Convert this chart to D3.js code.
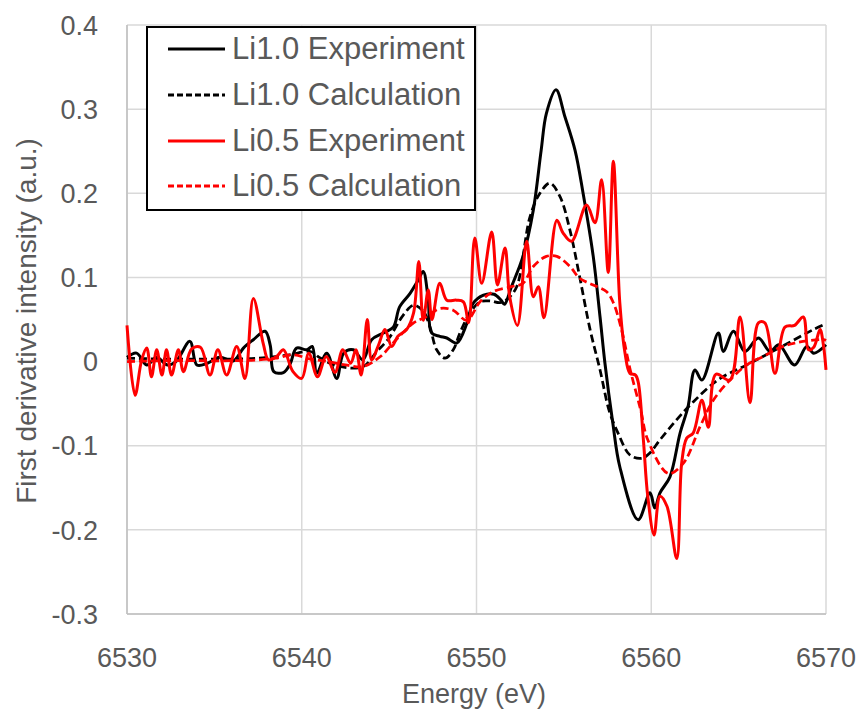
<!DOCTYPE html>
<html>
<head>
<meta charset="utf-8">
<title>First derivative XANES</title>
<script src="https://d3js.org/d3.v7.min.js"></script>
<style>
body { margin: 0; background: #fff; font-family: "Liberation Sans", Arial, sans-serif; }
.tick-label { fill: #595959; font-size: 27px; }
.axis-title { fill: #595959; }
.legend-text { fill: #595959; font-size: 31px; }
</style>
</head>
<body>
<script>
// x ticks / y ticks
var xTicks = [6530, 6540, 6550, 6560, 6570];
var yTicks = [0.4, 0.3, 0.2, 0.1, 0, -0.1, -0.2, -0.3];

// Li1.0 experiment (black solid)
var li10ExpE = [6530.0, 6530.55, 6531.13, 6531.7, 6532.3, 6532.8, 6533.6, 6534.0, 6534.6, 6535.3, 6536.1, 6536.66, 6537.23, 6537.9, 6538.2, 6538.4, 6538.95, 6539.33, 6539.7, 6540.3, 6540.6, 6540.86, 6541.43, 6542.0, 6542.4, 6542.95, 6543.5, 6544.0, 6544.67, 6545.24, 6545.6, 6546.2, 6546.67, 6546.95, 6547.24, 6547.43, 6547.9, 6548.3, 6548.87, 6549.44, 6549.8, 6550.4, 6551.0, 6551.4, 6551.6, 6552.0, 6552.66, 6553.25, 6553.7, 6554.0, 6554.55, 6555.06, 6555.64, 6556.1, 6556.68, 6557.07, 6557.35, 6557.8, 6558.2, 6559.25, 6559.93, 6560.2, 6560.5, 6561.07, 6561.65, 6562.1, 6562.5, 6562.9, 6563.84, 6564.12, 6564.7, 6565.36, 6566.13, 6566.8, 6567.3, 6568.2, 6568.9, 6569.3, 6570.0];
var li10ExpV = [0.005, 0.010, -0.004, 0.005, -0.004, 0.0, 0.024, -0.004, -0.002, 0.005, 0.001, 0.016, 0.026, 0.036, 0.019, -0.012, -0.013, -0.003, 0.016, 0.014, 0.018, -0.014, 0.010, -0.020, 0.010, 0.014, 0.002, 0.026, 0.034, 0.041, 0.065, 0.081, 0.097, 0.107, 0.073, 0.034, 0.030, 0.028, 0.022, 0.045, 0.069, 0.079, 0.080, 0.073, 0.068, 0.089, 0.125, 0.180, 0.251, 0.295, 0.323, 0.291, 0.251, 0.200, 0.125, 0.053, -0.002, -0.073, -0.125, -0.188, -0.156, -0.174, -0.156, -0.137, -0.085, -0.054, -0.010, -0.022, 0.034, 0.012, 0.036, 0.012, 0.028, 0.012, 0.020, -0.004, 0.018, 0.010, 0.020];

// Li1.0 calculation (black dashed)
var li10CalE = [6530, 6532, 6534, 6536, 6537.5, 6538.5, 6539.3, 6540.5, 6541, 6542, 6543.5, 6544.3, 6545, 6545.8, 6546.4, 6546.95, 6547.34, 6547.72, 6548.2, 6548.67, 6549.05, 6549.6, 6550.2, 6550.8, 6551.35, 6551.8, 6552.3, 6553.06, 6553.63, 6554.2, 6554.78, 6555.35, 6555.9, 6556.5, 6557.07, 6557.6, 6558.1, 6558.78, 6559.45, 6559.9, 6560.5, 6561.46, 6562.4, 6563.8, 6565.46, 6567.3, 6569.27, 6570];
var li10CalV = [0.004, 0.003, 0.003, 0.003, 0.004, 0.006, 0.008, 0.012, 0.005, -0.005, -0.006, 0.012, 0.028, 0.055, 0.067, 0.060, 0.041, 0.014, 0.004, 0.014, 0.034, 0.057, 0.071, 0.072, 0.070, 0.075, 0.089, 0.172, 0.200, 0.212, 0.196, 0.156, 0.101, 0.038, -0.010, -0.059, -0.085, -0.111, -0.115, -0.109, -0.093, -0.069, -0.048, -0.022, -0.004, 0.016, 0.038, 0.045];

// Li0.5 experiment (red solid)
var li05ExpE = [6530.0, 6530.46, 6530.84, 6531.13, 6531.4, 6531.7, 6532.0, 6532.26, 6532.55, 6532.94, 6533.23, 6533.7, 6534.2, 6534.75, 6535.2, 6535.7, 6536.28, 6536.75, 6537.23, 6537.8, 6538.1, 6538.56, 6538.95, 6539.5, 6540.0, 6540.4, 6540.9, 6541.4, 6541.9, 6542.35, 6542.8, 6543.1, 6543.4, 6543.75, 6544.0, 6544.4, 6544.76, 6545.15, 6545.5, 6546.0, 6546.4, 6546.7, 6546.95, 6547.24, 6547.45, 6547.9, 6548.3, 6548.85, 6549.25, 6549.55, 6549.9, 6550.3, 6550.87, 6551.2, 6551.63, 6551.9, 6552.34, 6552.87, 6553.25, 6553.54, 6553.86, 6554.6, 6554.95, 6555.44, 6556.3, 6556.78, 6557.16, 6557.54, 6557.83, 6558.2, 6558.5, 6558.78, 6559.1, 6559.26, 6559.55, 6559.8, 6560.16, 6560.5, 6560.9, 6561.46, 6561.74, 6562.03, 6562.4, 6562.9, 6563.27, 6563.7, 6564.5, 6565.08, 6565.65, 6566.13, 6566.5, 6567.08, 6567.65, 6568.2, 6568.7, 6569.0, 6569.3, 6569.66, 6569.85, 6570.0];
var li05ExpV = [0.043, -0.040, 0.002, 0.016, -0.018, 0.014, -0.016, 0.014, -0.016, 0.014, -0.012, 0.015, 0.017, -0.016, 0.014, -0.016, 0.018, -0.020, 0.075, 0.021, 0.002, 0.006, 0.014, -0.012, -0.020, 0.010, -0.018, 0.006, -0.013, 0.014, -0.002, 0.014, -0.016, 0.050, 0.002, 0.020, 0.038, 0.018, 0.030, 0.038, 0.058, 0.119, 0.049, 0.085, 0.050, 0.093, 0.073, 0.073, 0.071, 0.046, 0.147, 0.093, 0.154, 0.091, 0.135, 0.077, 0.043, 0.143, 0.077, 0.089, 0.052, 0.168, 0.153, 0.143, 0.186, 0.165, 0.216, 0.106, 0.238, 0.070, 0.010, -0.014, -0.016, -0.025, -0.093, -0.160, -0.206, -0.160, -0.172, -0.234, -0.121, -0.091, -0.085, -0.046, -0.078, -0.015, -0.022, 0.053, -0.049, 0.046, 0.046, -0.014, 0.041, 0.043, 0.053, 0.014, 0.017, 0.038, 0.020, -0.010];

// Li0.5 calculation (red dashed)
var li05CalE = [6530, 6532, 6534, 6536, 6537.5, 6538.5, 6539.5, 6540.5, 6541.5, 6542.5, 6543.5, 6544.5, 6545.4, 6546.4, 6547.1, 6547.9, 6548.67, 6549.44, 6550.2, 6550.95, 6552.0, 6552.66, 6553.25, 6554.0, 6554.6, 6555.35, 6555.9, 6556.68, 6557.45, 6557.83, 6558.3, 6558.8, 6559.4, 6559.8, 6560.98, 6561.83, 6562.8, 6563.55, 6564.5, 6565.46, 6566.4, 6567.3, 6568.2, 6569.85, 6570];
var li05CalV = [0.0, 0.001, 0.001, 0.001, 0.002, 0.004, 0.008, 0.003, 0.0, -0.004, -0.006, 0.006, 0.026, 0.046, 0.053, 0.063, 0.061, 0.049, 0.071, 0.083, 0.089, 0.093, 0.113, 0.125, 0.125, 0.113, 0.099, 0.091, 0.083, 0.070, 0.038, -0.010, -0.058, -0.093, -0.133, -0.121, -0.077, -0.046, -0.022, -0.004, 0.006, 0.016, 0.022, 0.026, 0.025];

var seriesNames = ["Li1.0 Experiment", "Li1.0 Calculation", "Li0.5 Experiment", "Li0.5 Calculation"];
var seriesColors = ["#000000", "#000000", "#ff0000", "#ff0000"];
var seriesDash = [null, "8,4", null, "8,4"];

var width = 860, height = 717;
// plot area edges (note: "top" is reserved on window, so use other names)
var plotL = 127, plotR = 826, plotT = 25, plotB = 614;

var svg = d3.select("body").append("svg")
  .attr("width", width)
  .attr("height", height);

svg.append("rect").attr("width", width).attr("height", height).attr("fill", "#fff");

var x = d3.scaleLinear().domain([6530, 6570]).range([plotL, plotR]);
var y = d3.scaleLinear().domain([-0.3, 0.4]).range([plotB, plotT]);

// gridlines
svg.append("g").selectAll("line")
  .data(yTicks)
  .enter().append("line")
  .attr("x1", plotL).attr("x2", plotR)
  .attr("y1", function(d) { return y(d); })
  .attr("y2", function(d) { return y(d); })
  .attr("stroke", "#d9d9d9").attr("stroke-width", 1.5);
svg.append("g").selectAll("line")
  .data(xTicks)
  .enter().append("line")
  .attr("x1", function(d) { return x(d); })
  .attr("x2", function(d) { return x(d); })
  .attr("y1", plotT).attr("y2", plotB)
  .attr("stroke", "#d9d9d9").attr("stroke-width", 1.5);
// axis lines
svg.append("line").attr("x1", plotL).attr("x2", plotL).attr("y1", plotT).attr("y2", plotB)
  .attr("stroke", "#bfbfbf").attr("stroke-width", 1.5);
svg.append("line").attr("x1", plotL).attr("x2", plotR).attr("y1", plotB).attr("y2", plotB)
  .attr("stroke", "#bfbfbf").attr("stroke-width", 1.5);

// tick labels
svg.append("g").selectAll("text")
  .data(yTicks)
  .enter().append("text")
  .attr("class", "tick-label")
  .attr("x", 98)
  .attr("y", function(d) { return y(d); })
  .attr("dy", "0.36em")
  .attr("text-anchor", "end")
  .text(function(d) { return String(Math.round(d * 10) / 10); });
svg.append("g").selectAll("text")
  .data(xTicks)
  .enter().append("text")
  .attr("class", "tick-label")
  .attr("x", function(d) { return x(d); })
  .attr("y", 667)
  .attr("text-anchor", "middle")
  .text(function(d) { return d; });

// axis titles
svg.append("text").attr("class", "axis-title")
  .attr("x", 474).attr("y", 703)
  .attr("text-anchor", "middle")
  .style("font-size", "27px")
  .text("Energy (eV)");
svg.append("text").attr("class", "axis-title")
  .attr("transform", "translate(36,321) rotate(-90)")
  .attr("text-anchor", "middle")
  .style("font-size", "28px")
  .text("First derivative intensity (a.u.)");

// curves
var seriesE = [li10ExpE, li10CalE, li05ExpE, li05CalE];
var seriesV = [li10ExpV, li10CalV, li05ExpV, li05CalV];

var line = d3.line()
  .x(function(d) { return x(d[0]); })
  .y(function(d) { return y(d[1]); })
  .curve(d3.curveCatmullRom.alpha(0.5));

var plot = svg.append("g");
seriesE.forEach(function(es, i) {
  var pts = es.map(function(e, j) { return [e, seriesV[i][j]]; });
  plot.append("path")
    .datum(pts)
    .attr("fill", "none")
    .attr("stroke", seriesColors[i])
    .attr("stroke-width", seriesDash[i] ? 2.75 : 3)
    .attr("stroke-dasharray", seriesDash[i])
    .attr("stroke-linejoin", "round")
    .attr("d", line);
});

// legend
var lg = svg.append("g");
lg.append("rect")
  .attr("x", 147).attr("y", 27)
  .attr("width", 328).attr("height", 183)
  .attr("fill", "#fff")
  .attr("stroke", "#000").attr("stroke-width", 2);
var rowY = [49, 95, 141, 186];
seriesNames.forEach(function(name, i) {
  lg.append("line")
    .attr("x1", 168).attr("x2", 225)
    .attr("y1", rowY[i]).attr("y2", rowY[i])
    .attr("stroke", seriesColors[i])
    .attr("stroke-width", 3)
    .attr("stroke-dasharray", seriesDash[i] ? "6,3" : null);
  lg.append("text")
    .attr("class", "legend-text")
    .attr("x", 232).attr("y", rowY[i] + 10)
    .text(name);
});
</script>
</body>
</html>
